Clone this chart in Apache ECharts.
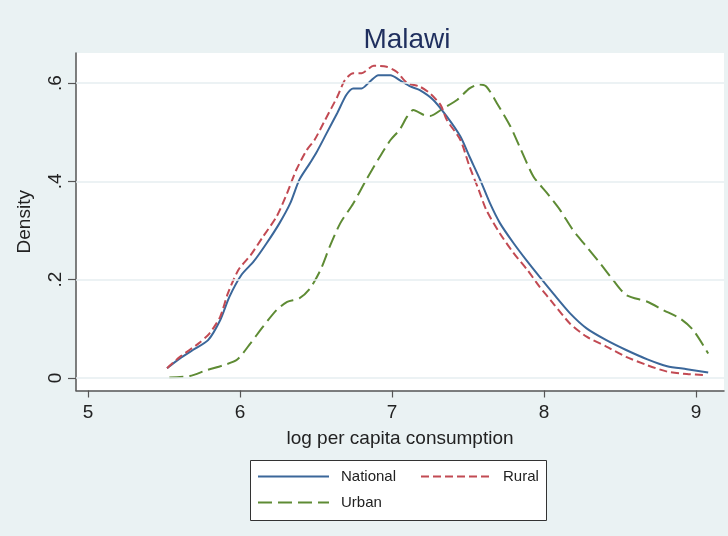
<!DOCTYPE html>
<html>
<head>
<meta charset="utf-8">
<script src="https://cdn.jsdelivr.net/npm/echarts@6/dist/echarts.min.js"></script>
<style>
html,body{margin:0;padding:0;background:#eaf2f3;}
#c{width:728px;height:536px;}
</style>
</head>
<body>
<div id="c"></div>
<script>
// ---- data ----
const nationalX = [5.52,5.605,5.69,5.79,5.87,5.93,6.01,6.09,6.175,6.26,6.33,6.39,6.46,6.50,6.57,6.64,6.70,6.745,6.80,6.855,6.91,6.99,7.05,7.12,7.18,7.27,7.36,7.45,7.51,7.58,7.645,7.71,7.80,7.89,7.97,8.06,8.17,8.28,8.41,8.54,8.68,8.81,8.94,9.08];
const nationalY = [0.020,0.040,0.057,0.077,0.118,0.165,0.210,0.237,0.274,0.315,0.355,0.403,0.437,0.457,0.498,0.539,0.576,0.589,0.589,0.603,0.616,0.616,0.606,0.593,0.586,0.566,0.532,0.491,0.450,0.403,0.355,0.315,0.274,0.237,0.206,0.172,0.132,0.101,0.077,0.057,0.038,0.024,0.018,0.011];

const ruralX = [5.52,5.605,5.73,5.80,5.87,5.92,5.99,6.07,6.15,6.24,6.31,6.37,6.44,6.49,6.56,6.64,6.69,6.745,6.80,6.88,6.965,7.03,7.10,7.18,7.25,7.32,7.36,7.45,7.51,7.57,7.62,7.71,7.80,7.89,7.97,8.06,8.17,8.28,8.41,8.54,8.68,8.81,8.94,9.06];
const ruralY = [0.020,0.043,0.071,0.091,0.125,0.172,0.220,0.250,0.287,0.328,0.376,0.423,0.464,0.484,0.525,0.572,0.606,0.620,0.620,0.635,0.633,0.623,0.600,0.593,0.579,0.555,0.525,0.484,0.430,0.383,0.342,0.294,0.254,0.220,0.186,0.152,0.111,0.084,0.064,0.043,0.026,0.013,0.008,0.006];

const urbanX = [5.535,5.67,5.78,5.89,5.98,6.07,6.15,6.24,6.31,6.39,6.46,6.53,6.59,6.66,6.745,6.83,6.92,6.99,7.05,7.10,7.14,7.21,7.25,7.34,7.43,7.51,7.57,7.62,7.69,7.78,7.84,7.93,8.02,8.105,8.19,8.28,8.37,8.455,8.54,8.68,8.785,8.895,8.98,9.08];
const urbanY = [0.001,0.004,0.016,0.026,0.037,0.071,0.104,0.138,0.155,0.162,0.182,0.220,0.267,0.315,0.355,0.403,0.450,0.484,0.505,0.532,0.545,0.535,0.533,0.549,0.566,0.589,0.597,0.593,0.559,0.511,0.470,0.410,0.376,0.342,0.301,0.267,0.233,0.199,0.169,0.155,0.138,0.121,0.098,0.050];

const xTicks = [5,6,7,8,9];
const yTicks = [0,0.2,0.4,0.6];
const yTickLabels = ['0','.2','.4','.6'];
const seriesNames = ['National','Rural','Urban'];
const titleText = 'Malawi';
const xTitle = 'log per capita consumption';
const yTitle = 'Density';

function zip(xs, ys){ return xs.map((x,i)=>[x, ys[i]]); }

const FONT = "'Liberation Sans', Arial, sans-serif";
const chart = echarts.init(document.getElementById('c'), null, {renderer:'canvas'});

const colors = {National:'#3b679a', Rural:'#c24a53', Urban:'#5e8b34'};
const legendBase = {padding:0, itemWidth:71, itemHeight:14,
  itemStyle:{opacity:0, borderWidth:0},
  textStyle:{fontFamily:FONT, fontSize:15, color:'#222', padding:[0,0,0,7]}};

chart.setOption({
  backgroundColor:'#eaf2f3',
  animation:false,
  title:{
    text:titleText, left:402, textAlign:'center', top:21,
    textStyle:{fontFamily:FONT, fontSize:28, fontWeight:'normal', color:'#1f2f5e'}
  },
  grid:{left:76, right:4, top:53, bottom:145.5, show:true, backgroundColor:'#ffffff', borderWidth:0},
  xAxis:{
    type:'value', min:4.921, max:9.184,
    name:xTitle, nameLocation:'middle', nameGap:39,
    nameTextStyle:{fontFamily:FONT, fontSize:19, color:'#222'},
    axisLine:{show:true, onZero:false, lineStyle:{color:'#555', width:1.5}},
    axisTick:{show:true, length:7, customValues:xTicks, lineStyle:{color:'#555', width:1.2}},
    axisLabel:{customValues:xTicks, margin:13, fontFamily:FONT, fontSize:19, color:'#222'},
    splitLine:{show:false}
  },
  yAxis:{
    type:'value', min:-0.0254, max:0.661,
    name:yTitle, nameLocation:'middle', nameGap:42, nameRotate:90,
    nameTextStyle:{fontFamily:FONT, fontSize:19, color:'#222'},
    axisLine:{show:true, onZero:false, lineStyle:{color:'#555', width:1.5}},
    axisTick:{show:true, length:8, customValues:yTicks, lineStyle:{color:'#555', width:1.2}},
    axisLabel:{customValues:yTicks, rotate:90, margin:11, fontFamily:FONT, fontSize:19, color:'#222',
      formatter:function(v){ const i = yTicks.findIndex(t=>Math.abs(t-v)<1e-9); return i>=0?yTickLabels[i]:''; }},
    splitLine:{show:false}
  },
  legend:[
    Object.assign({data:[seriesNames[0]], left:257, top:469}, legendBase),
    Object.assign({data:[seriesNames[1]], left:420, top:469}, legendBase, {itemWidth:72,
      textStyle:{fontFamily:FONT, fontSize:15, color:'#222', padding:[0,0,0,5]}}),
    Object.assign({data:[seriesNames[2]], left:257, top:495}, legendBase)
  ],
  graphic:[{
    type:'rect', z:-1, silent:true,
    shape:{x:250.5, y:460.5, width:296, height:60},
    style:{fill:'#ffffff', stroke:'#333', lineWidth:1}
  }],
  series:[
    {name:'_grid', type:'line', data:[], silent:true, z:1,
     markLine:{silent:true, symbol:'none', label:{show:false},
       lineStyle:{color:'#e6eef0', type:'solid', width:1.5},
       data:yTicks.map(v=>({yAxis:v}))}},
    {name:seriesNames[0], type:'line', data:zip(nationalX,nationalY), showSymbol:false, symbol:'none', smooth:0.25, z:3,
     itemStyle:{color:colors.National}, lineStyle:{color:colors.National, width:2}},
    {name:seriesNames[1], type:'line', data:zip(ruralX,ruralY), showSymbol:false, symbol:'none', smooth:0.25, z:4,
     itemStyle:{color:colors.Rural}, lineStyle:{color:colors.Rural, width:2, type:[8,4]}},
    {name:seriesNames[2], type:'line', data:zip(urbanX,urbanY), showSymbol:false, symbol:'none', smooth:0.25, z:2,
     itemStyle:{color:colors.Urban}, lineStyle:{color:colors.Urban, width:2, type:[14,6]}}
  ]
});
</script>
</body>
</html>
